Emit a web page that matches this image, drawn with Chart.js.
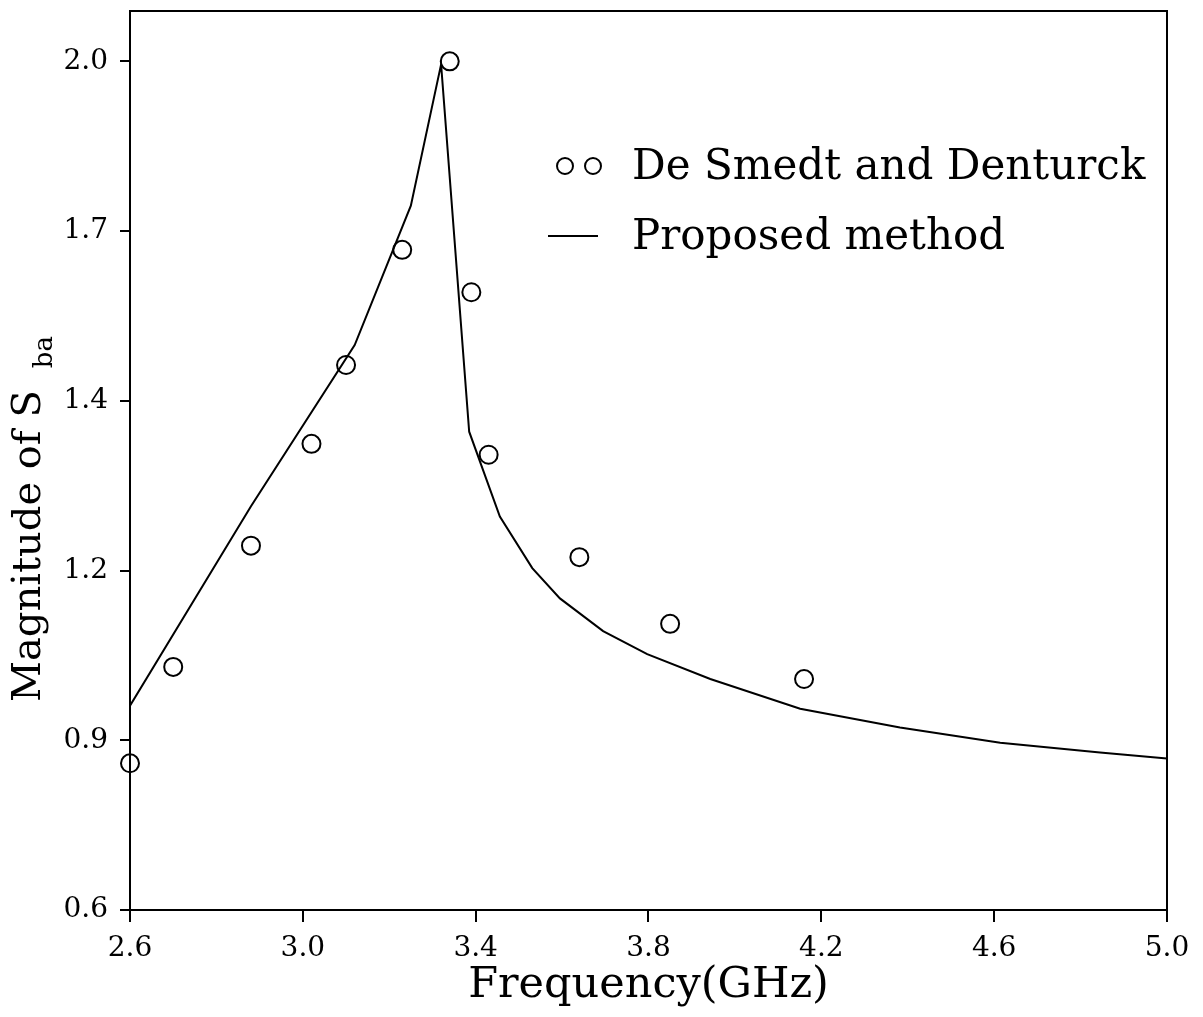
<!DOCTYPE html>
<html>
<head>
<meta charset="utf-8">
<script src="https://cdn.jsdelivr.net/npm/chart.js@4/dist/chart.umd.min.js"></script>
<style>
  html, body { margin: 0; padding: 0; background: #fff; }
  #wrap { width: 1203px; height: 1017px; position: relative; }
</style>
</head>
<body>
<div id="wrap"><canvas id="grafico"></canvas></div>
<script>
// Measured points (circles)
const freqMeasured = [2.60, 2.70, 2.88, 3.02, 3.10, 3.23, 3.34, 3.39, 3.43, 3.64, 3.85, 4.16];
const magMeasured  = [0.842, 1.001, 1.201, 1.369, 1.499, 1.689, 2.000, 1.619, 1.351, 1.182, 1.072, 0.981];

// Proposed method (solid line)
const freqModel = [2.60, 2.88, 3.12, 3.25, 3.32, 3.385, 3.456, 3.531, 3.595, 3.695, 3.797, 3.943, 4.151, 4.382, 4.614, 4.845, 5.00];
const magModel  = [0.937, 1.266, 1.532, 1.762, 1.995, 1.389, 1.249, 1.164, 1.114, 1.060, 1.022, 0.981, 0.932, 0.901, 0.876, 0.860, 0.850];

// Axis ticks (y ticks are evenly spaced, labels rounded as in the original)
const xTickValues = [2.6, 3.0, 3.4, 3.8, 4.2, 4.6, 5.0];
const yTickValues = [0.6, 0.88, 1.16, 1.44, 1.72, 2.0];
const yTickLabels = ['0.6', '0.9', '1.2', '1.4', '1.7', '2.0'];

const legendLabels = ['De Smedt and Denturck', 'Proposed method'];
const FONT = '"DejaVu Serif", serif';

const toPoints = (xs, ys) => xs.map((x, i) => ({ x: x, y: ys[i] }));

// Marco, titulo del eje Y con subindice y leyenda
const extras = {
    id: 'extras',
    afterDraw(chart) {
        const ctx = chart.ctx;
        const a = chart.chartArea;
        ctx.save();
        ctx.strokeStyle = '#000';
        ctx.lineWidth = 2;
        ctx.strokeRect(a.left, a.top, a.right - a.left, a.bottom - a.top);

        // y title
        ctx.fillStyle = '#000';
        ctx.translate(30, 702);
        ctx.rotate(-Math.PI / 2);
        ctx.font = '40px ' + FONT;
        ctx.textAlign = 'left';
        ctx.textBaseline = 'middle';
        ctx.fillText('Magnitude of S', 0, 0);
        const w = ctx.measureText('Magnitude of S').width;
        ctx.font = '26px ' + FONT;
        ctx.fillText('ba', w + 22, 15);
        ctx.restore();

        // legend
        ctx.save();
        ctx.strokeStyle = '#000';
        ctx.fillStyle = '#000';
        ctx.lineWidth = 2;
        [565, 593].forEach(cx => {
            ctx.beginPath();
            ctx.arc(cx, 166, 8, 0, Math.PI * 2);
            ctx.stroke();
        });
        ctx.beginPath();
        ctx.moveTo(548, 236);
        ctx.lineTo(598, 236);
        ctx.stroke();
        ctx.font = '42px ' + FONT;
        ctx.textAlign = 'left';
        ctx.textBaseline = 'middle';
        ctx.fillText(legendLabels[0], 632, 168);
        ctx.fillText(legendLabels[1], 632, 238);
        ctx.restore();
    }
};

const ctx = document.getElementById('grafico').getContext('2d');
new Chart(ctx, {
    type: 'scatter',
    data: {
        datasets: [{
            label: legendLabels[1],
            data: toPoints(freqModel, magModel),
            showLine: true,
            borderColor: '#000',
            borderWidth: 2,
            pointRadius: 0,
            tension: 0,
            fill: false
        }, {
            label: legendLabels[0],
            data: toPoints(freqMeasured, magMeasured),
            showLine: false,
            pointStyle: 'circle',
            pointRadius: 9,
            borderColor: '#000',
            borderWidth: 2,
            backgroundColor: 'rgba(0,0,0,0)',
            clip: false
        }]
    },
    options: {
        responsive: true,
        maintainAspectRatio: false,
        animation: false,
        layout: { padding: { top: 4, right: 36, left: 0, bottom: 0 } },
        plugins: {
            legend: { display: false },
            tooltip: { enabled: false }
        },
        scales: {
            x: {
                type: 'linear',
                min: 2.6,
                max: 5.0,
                afterFit: (s) => { s.height = 107; s.paddingLeft = 0; s.paddingRight = 0; },
                afterBuildTicks: (s) => { s.ticks = xTickValues.map(v => ({ value: v })); },
                ticks: {
                    color: '#000',
                    font: { family: FONT, size: 28 },
                    padding: 10,
                    maxRotation: 0,
                    callback: (v) => Number(v).toFixed(1)
                },
                grid: { drawOnChartArea: false, drawTicks: true, tickLength: 12, color: '#000', lineWidth: 2 },
                border: { display: true, color: '#000', width: 2 },
                title: {
                    display: true,
                    text: 'Frequency(GHz)',
                    color: '#000',
                    font: { family: FONT, size: 43 },
                    padding: { top: 0, bottom: 5 }
                }
            },
            y: {
                type: 'linear',
                min: 0.6,
                max: 2.083,
                afterFit: (s) => { s.width = 130; s.paddingTop = 0; s.paddingBottom = 0; },
                afterBuildTicks: (s) => { s.ticks = yTickValues.map(v => ({ value: v })); },
                ticks: {
                    color: '#000',
                    font: { family: FONT, size: 28 },
                    padding: 12,
                    callback: (v) => {
                        const i = yTickValues.findIndex(t => Math.abs(t - v) < 1e-6);
                        return i >= 0 ? yTickLabels[i] : '';
                    }
                },
                grid: { drawOnChartArea: false, drawTicks: true, tickLength: 10, color: '#000', lineWidth: 2 },
                border: { display: true, color: '#000', width: 2 }
            }
        }
    },
    plugins: [extras]
});
</script>
</body>
</html>
